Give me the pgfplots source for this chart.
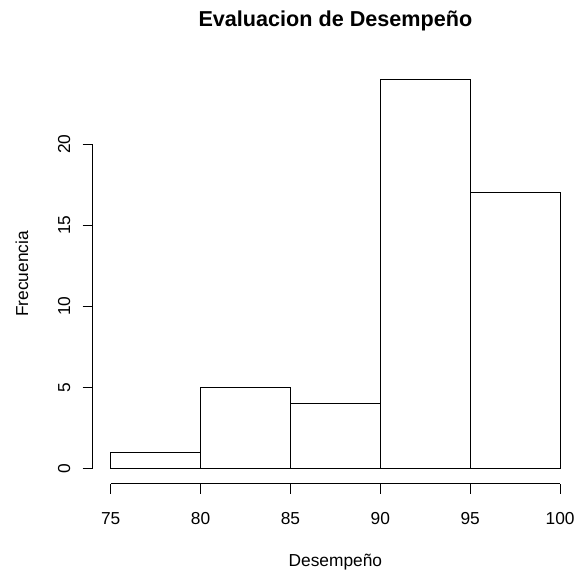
\documentclass[border=0pt]{standalone}
\usepackage{fontspec}
\setmainfont{Liberation Sans}
\usepackage{pgfplots}
\pgfplotsset{compat=1.18}
\begin{document}
\begin{tikzpicture}
\path[use as bounding box] (-69.5pt,-67.6pt) rectangle (361.7pt,362.9pt);
\begin{axis}[
  at={(0,0)}, anchor=south west,
  scale only axis, width=364pt, height=315pt,
  xmin=74, xmax=101, ymin=-0.96, ymax=24.96,
  axis x line*=bottom, axis y line*=left,
  axis line style={draw=none},
  xtick={75,80,...,100}, ytick={0,5,...,20},
  tick align=outside, major tick length=7.5pt,
  tick style={black, line width=0.75pt},
  /pgf/number format/assume math mode=true,
  tick label style={font=\fontsize{13}{15}\selectfont, inner sep=0pt},
  xticklabel shift=13.7pt,
  yticklabel shift=9pt,
  xticklabel style={anchor=north},
  yticklabel style={rotate=90, anchor=south},
  title={Evaluacion de Desempeño},
  title style={at={(axis description cs:0.5,1.0705)}, anchor=base, font=\fontsize{16.2}{19}\selectfont\bfseries, inner sep=0pt},
  xlabel={Desempeño},
  xlabel style={at={(axis description cs:0.5,-0.1956)}, anchor=base, font=\fontsize{13}{15}\selectfont, inner sep=0pt},
  ylabel={Frecuencia},
  ylabel style={at={(axis description cs:-0.1332,0.5)}, rotate=0, anchor=base, font=\fontsize{13}{15}\selectfont, inner sep=0pt},
  clip=false,
]
\addplot[ybar interval, fill=white, draw=black, line width=0.75pt] coordinates {
  (75,1) (80,5) (85,4) (90,24) (95,17) (100,17)
};
\draw[black, line width=0.75pt] (axis cs:75,-0.96) -- (axis cs:100,-0.96);
\draw[black, line width=0.75pt] (axis cs:74,0) -- (axis cs:74,20);
\end{axis}
\end{tikzpicture}
\end{document}
